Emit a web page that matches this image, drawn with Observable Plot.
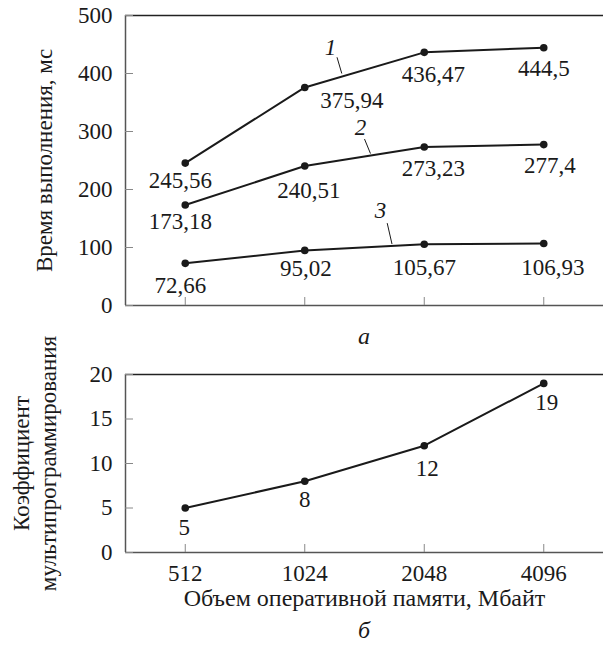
<!DOCTYPE html>
<html><head><meta charset="utf-8">
<script src="https://cdn.jsdelivr.net/npm/d3@7"></script>
<script src="https://cdn.jsdelivr.net/npm/@observablehq/plot@0.6"></script>
<style>
body{margin:0;background:#fff;}
#wrap{position:relative;width:603px;height:646px;font-family:"Liberation Serif",serif;color:#1a1a1a;overflow:hidden;}
.cap{position:absolute;left:125px;width:478px;text-align:center;font-style:italic;font-size:24px;line-height:28px;}
#wrap svg{position:absolute;left:0;}
</style></head><body><div id="wrap"></div>
<script>
// ---- data ----
const memory = ["512", "1024", "2048", "4096"];
const series1 = [245.56, 375.94, 436.47, 444.5];
const series2 = [173.18, 240.51, 273.23, 277.4];
const series3 = [72.66, 95.02, 105.67, 106.93];
const multiprog = [5, 8, 12, 19];
const timeTicks = [0, 100, 200, 300, 400, 500];
const coefTicks = [0, 5, 10, 15, 20];
const seriesNames = ["1", "2", "3"];
const yTitleTop = "Время выполнения, мс";
const yTitleBottom = "Коэффициент\nмультипрограммирования";
const xTitle = "Объем оперативной памяти, Мбайт";
const captions = ["а", "б"];

// ---- layout (label offsets in px, annotation anchors in data space) ----
const topOffsets = [
  [[-5, 18], [47, 13], [9, 22], [0, 21]],
  [[-5, 17], [4, 25], [9, 22], [6, 21]],
  [[-5, 22], [1, 18], [0, 23], [9, 24]]
];
const bottomOffsets = [[-1, 20], [0, 18], [3, 23], [3, 19]];
const seriesAnnot = [
  {tx: 1.216, ty: 445, x1: 1.27, y1: 428, x2: 1.31, y2: 400},
  {tx: 1.466, ty: 307, x1: 1.50, y1: 287, x2: 1.55, y2: 262},
  {tx: 1.634, ty: 164, x1: 1.69, y1: 142, x2: 1.73, y2: 106}
];

const fmt = v => String(v).replace(".", ",");
const ink = "#1a1a1a";
const axisInk = "#555";
const tickInk = "#888";
const FS = 23;
const xIdx = memory.map((m, i) => i);

const topRows = [];
[series1, series2, series3].forEach((vals, s) => vals.forEach((v, i) => topRows.push({s, i, v})));
const botRows = multiprog.map((v, i) => ({i, v}));

const common = {
  width: 603,
  marginLeft: 125,
  marginRight: 0,
  style: {fontFamily: '"Liberation Serif", serif', fontSize: FS + "px", color: ink, background: "transparent", overflow: "visible"},
  x: {type: "linear", domain: [-0.5, 3.5], axis: null},
};

const topPlot = Plot.plot({
  ...common,
  height: 325,
  marginTop: 15,
  marginBottom: 20,
  y: {domain: [0, 500], axis: null},
  marks: [
    Plot.ruleY([0], {stroke: axisInk, strokeWidth: 1.5}),
    Plot.ruleY([500], {stroke: "#222", strokeWidth: 1.5}),
    Plot.ruleX([-0.5], {stroke: axisInk, strokeWidth: 1.5}),
    Plot.axisY({ticks: timeTicks, tickSize: -8, fill: "none", stroke: tickInk, label: null}),
    Plot.axisX({ticks: xIdx, anchor: "bottom", tickSize: -8, fill: "none", stroke: tickInk, label: null}),
    Plot.axisY({ticks: timeTicks, tickSize: 0, tickPadding: 13, fontSize: FS, fill: ink, label: null}),
    Plot.text([yTitleTop], {text: d => d, frameAnchor: "left", textAnchor: "middle", lineAnchor: "middle", rotate: -90, dx: -81, fontSize: FS, fill: ink}),
    Plot.line(topRows, {x: "i", y: "v", z: "s", stroke: ink, strokeWidth: 2}),
    Plot.dot(topRows, {x: "i", y: "v", r: 3.8, fill: ink}),
    ...topRows.map(d => Plot.text([d], {x: "i", y: "v", text: r => fmt(r.v), dx: topOffsets[d.s][d.i][0], dy: topOffsets[d.s][d.i][1], fontSize: FS, fill: ink})),
    Plot.link(seriesAnnot, {x1: "x1", y1: "y1", x2: "x2", y2: "y2", stroke: ink, strokeWidth: 1}),
    Plot.text(seriesAnnot, {x: "tx", y: "ty", text: (d, i) => seriesNames[i], fontStyle: "italic", fontSize: FS, fill: ink})
  ]
});

const botPlot = Plot.plot({
  ...common,
  height: 270,
  marginTop: 24,
  marginBottom: 68,
  y: {domain: [0, 20], axis: null},
  marks: [
    Plot.ruleY([0], {stroke: axisInk, strokeWidth: 1.5}),
    Plot.ruleY([20], {stroke: "#222", strokeWidth: 1.5}),
    Plot.ruleX([-0.5], {stroke: axisInk, strokeWidth: 1.5}),
    Plot.axisY({ticks: coefTicks, tickSize: -8, fill: "none", stroke: tickInk, label: null}),
    Plot.axisX({ticks: xIdx, anchor: "bottom", tickSize: -8, fill: "none", stroke: tickInk, label: null}),
    Plot.axisY({ticks: coefTicks, tickSize: 0, tickPadding: 13, fontSize: FS, fill: ink, label: null}),
    Plot.axisX({ticks: xIdx, anchor: "bottom", tickSize: 0, tickPadding: 12, tickFormat: i => memory[i], fontSize: FS, fill: ink, label: null}),
    Plot.text([yTitleBottom], {text: d => d, frameAnchor: "left", textAnchor: "middle", lineAnchor: "middle", rotate: -90, dx: -92, lineHeight: 1.2, fontSize: FS, fill: ink}),
    Plot.text([xTitle], {text: d => d, frameAnchor: "bottom", lineAnchor: "middle", dy: 46, fontSize: 24, fill: ink}),
    Plot.line(botRows, {x: "i", y: "v", stroke: ink, strokeWidth: 2}),
    Plot.dot(botRows, {x: "i", y: "v", r: 3.8, fill: ink}),
    ...botRows.map(d => Plot.text([d], {x: "i", y: "v", text: r => fmt(r.v), dx: bottomOffsets[d.i][0], dy: bottomOffsets[d.i][1], fontSize: FS, fill: ink}))
  ]
});

const wrap = document.getElementById("wrap");
topPlot.style.top = "0px";
wrap.appendChild(topPlot);
const c1 = document.createElement("div");
c1.className = "cap"; c1.style.top = "322px"; c1.textContent = captions[0];
wrap.appendChild(c1);
botPlot.style.top = "350px";
wrap.appendChild(botPlot);
const c2 = document.createElement("div");
c2.className = "cap"; c2.style.top = "616px"; c2.textContent = captions[1];
wrap.appendChild(c2);
</script>
</body></html>
